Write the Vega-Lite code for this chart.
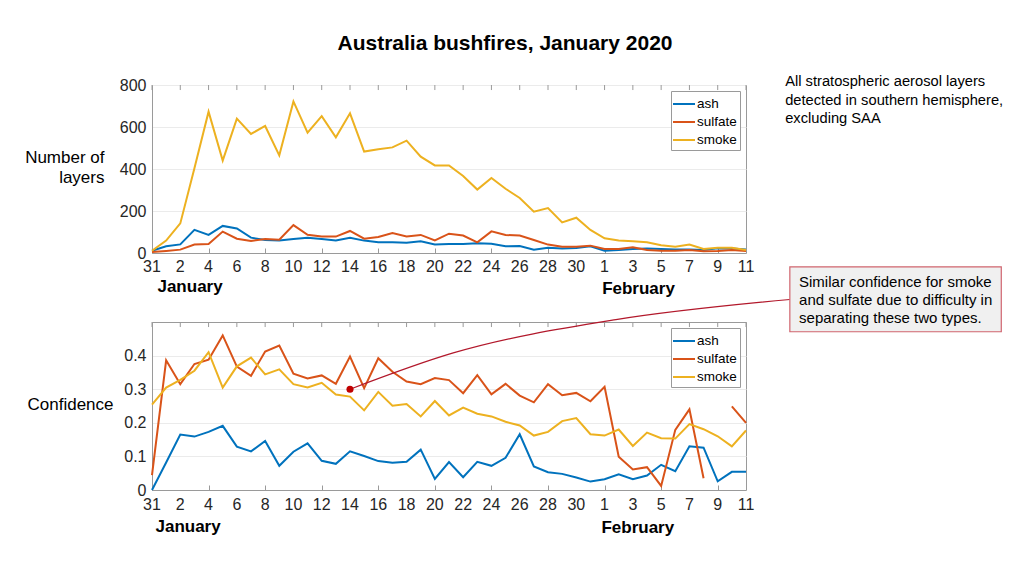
{
  "$schema": "https://vega.github.io/schema/vega-lite/v6.json",
  "autosize": {"type": "none"},
  "padding": {"left": 152, "top": 85, "right": 872, "bottom": 491},
  "background": "white",
  "config": {
    "font": "Liberation Sans",
    "view": {"stroke": "#9a9a9a", "strokeWidth": 1},
    "axis": {
      "labelFont": "Liberation Sans", "labelFontSize": 16, "labelColor": "#262626",
      "domainColor": "#9a9a9a", "tickColor": "#9a9a9a", "gridColor": "#ebebeb",
      "titleFont": "Liberation Sans", "titleFontSize": 17, "titleFontWeight": "normal", "titleColor": "#000000",
      "titleLineHeight": 20
    },
    "axisX": {"labels": false, "tickSize": -5, "grid": false, "title": null},
    "legend": {
      "orient": "top-right", "offset": 6, "strokeColor": "#9a9a9a", "fillColor": "white",
      "padding": 3, "symbolType": "M-1.22,0H1.22", "symbolSize": 324, "symbolStrokeWidth": 2,
      "labelFont": "Liberation Sans", "labelFontSize": 13.5, "labelColor": "#000000",
      "rowPadding": 1, "labelOffset": 3, "title": null, "cornerRadius": 0
    }
  },
  "datasets": {
    "one": [{}],
    "series": [
      {"d":0,"type":"ash","count":11,"conf":0},
      {"d":1,"type":"ash","count":32,"conf":0.082},
      {"d":2,"type":"ash","count":41,"conf":0.165},
      {"d":3,"type":"ash","count":110,"conf":0.159},
      {"d":4,"type":"ash","count":86,"conf":0.173},
      {"d":5,"type":"ash","count":129,"conf":0.191},
      {"d":6,"type":"ash","count":117,"conf":0.129},
      {"d":7,"type":"ash","count":73,"conf":0.115},
      {"d":8,"type":"ash","count":62,"conf":0.146},
      {"d":9,"type":"ash","count":59,"conf":0.072},
      {"d":10,"type":"ash","count":67,"conf":0.114},
      {"d":11,"type":"ash","count":73,"conf":0.139},
      {"d":12,"type":"ash","count":67,"conf":0.087},
      {"d":13,"type":"ash","count":60,"conf":0.078},
      {"d":14,"type":"ash","count":73,"conf":0.115},
      {"d":15,"type":"ash","count":59,"conf":0.101},
      {"d":16,"type":"ash","count":51,"conf":0.086},
      {"d":17,"type":"ash","count":51,"conf":0.081},
      {"d":18,"type":"ash","count":49,"conf":0.084},
      {"d":19,"type":"ash","count":56,"conf":0.12},
      {"d":20,"type":"ash","count":41,"conf":0.033},
      {"d":21,"type":"ash","count":43,"conf":0.083},
      {"d":22,"type":"ash","count":43,"conf":0.038},
      {"d":23,"type":"ash","count":46,"conf":0.084},
      {"d":24,"type":"ash","count":44,"conf":0.072},
      {"d":25,"type":"ash","count":32,"conf":0.096},
      {"d":26,"type":"ash","count":33,"conf":0.166},
      {"d":27,"type":"ash","count":16,"conf":0.07},
      {"d":28,"type":"ash","count":25,"conf":0.053},
      {"d":29,"type":"ash","count":21,"conf":0.048},
      {"d":30,"type":"ash","count":24,"conf":0.037},
      {"d":31,"type":"ash","count":32,"conf":0.025},
      {"d":32,"type":"ash","count":11,"conf":0.032},
      {"d":33,"type":"ash","count":14,"conf":0.047},
      {"d":34,"type":"ash","count":19,"conf":0.032},
      {"d":35,"type":"ash","count":22,"conf":0.043},
      {"d":36,"type":"ash","count":19,"conf":0.075},
      {"d":37,"type":"ash","count":17,"conf":0.056},
      {"d":38,"type":"ash","count":17,"conf":0.13},
      {"d":39,"type":"ash","count":14,"conf":0.126},
      {"d":40,"type":"ash","count":22,"conf":0.026},
      {"d":41,"type":"ash","count":22,"conf":0.054},
      {"d":42,"type":"ash","count":17,"conf":0.054},
      {"d":0,"type":"sulfate","count":5,"conf":0.044},
      {"d":1,"type":"sulfate","count":10,"conf":0.386},
      {"d":2,"type":"sulfate","count":16,"conf":0.315},
      {"d":3,"type":"sulfate","count":40,"conf":0.375},
      {"d":4,"type":"sulfate","count":43,"conf":0.388},
      {"d":5,"type":"sulfate","count":102,"conf":0.46},
      {"d":6,"type":"sulfate","count":68,"conf":0.367},
      {"d":7,"type":"sulfate","count":57,"conf":0.34},
      {"d":8,"type":"sulfate","count":67,"conf":0.412},
      {"d":9,"type":"sulfate","count":63,"conf":0.43},
      {"d":10,"type":"sulfate","count":133,"conf":0.346},
      {"d":11,"type":"sulfate","count":87,"conf":0.332},
      {"d":12,"type":"sulfate","count":79,"conf":0.341},
      {"d":13,"type":"sulfate","count":78,"conf":0.316},
      {"d":14,"type":"sulfate","count":105,"conf":0.397},
      {"d":15,"type":"sulfate","count":68,"conf":0.303},
      {"d":16,"type":"sulfate","count":76,"conf":0.392},
      {"d":17,"type":"sulfate","count":95,"conf":0.352},
      {"d":18,"type":"sulfate","count":79,"conf":0.323},
      {"d":19,"type":"sulfate","count":86,"conf":0.315},
      {"d":20,"type":"sulfate","count":60,"conf":0.333},
      {"d":21,"type":"sulfate","count":92,"conf":0.327},
      {"d":22,"type":"sulfate","count":83,"conf":0.288},
      {"d":23,"type":"sulfate","count":51,"conf":0.342},
      {"d":24,"type":"sulfate","count":103,"conf":0.285},
      {"d":25,"type":"sulfate","count":86,"conf":0.316},
      {"d":26,"type":"sulfate","count":83,"conf":0.281},
      {"d":27,"type":"sulfate","count":62,"conf":0.261},
      {"d":28,"type":"sulfate","count":40,"conf":0.315},
      {"d":29,"type":"sulfate","count":30,"conf":0.282},
      {"d":30,"type":"sulfate","count":30,"conf":0.289},
      {"d":31,"type":"sulfate","count":35,"conf":0.264},
      {"d":32,"type":"sulfate","count":19,"conf":0.307},
      {"d":33,"type":"sulfate","count":19,"conf":0.099},
      {"d":34,"type":"sulfate","count":27,"conf":0.061},
      {"d":35,"type":"sulfate","count":14,"conf":0.068},
      {"d":36,"type":"sulfate","count":11,"conf":0.012},
      {"d":37,"type":"sulfate","count":11,"conf":0.179},
      {"d":38,"type":"sulfate","count":14,"conf":0.24},
      {"d":39,"type":"sulfate","count":8,"conf":0.035},
      {"d":40,"type":"sulfate","count":10,"conf":null},
      {"d":41,"type":"sulfate","count":14,"conf":0.249},
      {"d":42,"type":"sulfate","count":10,"conf":0.2},
      {"d":0,"type":"smoke","count":11,"conf":0.254},
      {"d":1,"type":"smoke","count":59,"conf":0.305},
      {"d":2,"type":"smoke","count":141,"conf":0.328},
      {"d":3,"type":"smoke","count":403,"conf":0.355},
      {"d":4,"type":"smoke","count":673,"conf":0.41},
      {"d":5,"type":"smoke","count":440,"conf":0.305},
      {"d":6,"type":"smoke","count":640,"conf":0.368},
      {"d":7,"type":"smoke","count":567,"conf":0.394},
      {"d":8,"type":"smoke","count":605,"conf":0.344},
      {"d":9,"type":"smoke","count":465,"conf":0.359},
      {"d":10,"type":"smoke","count":722,"conf":0.315},
      {"d":11,"type":"smoke","count":573,"conf":0.305},
      {"d":12,"type":"smoke","count":652,"conf":0.319},
      {"d":13,"type":"smoke","count":551,"conf":0.284},
      {"d":14,"type":"smoke","count":665,"conf":0.278},
      {"d":15,"type":"smoke","count":483,"conf":0.237},
      {"d":16,"type":"smoke","count":494,"conf":0.292},
      {"d":17,"type":"smoke","count":503,"conf":0.251},
      {"d":18,"type":"smoke","count":535,"conf":0.256},
      {"d":19,"type":"smoke","count":459,"conf":0.219},
      {"d":20,"type":"smoke","count":417,"conf":0.265},
      {"d":21,"type":"smoke","count":417,"conf":0.222},
      {"d":22,"type":"smoke","count":367,"conf":0.245},
      {"d":23,"type":"smoke","count":302,"conf":0.227},
      {"d":24,"type":"smoke","count":357,"conf":0.219},
      {"d":25,"type":"smoke","count":306,"conf":0.203},
      {"d":26,"type":"smoke","count":262,"conf":0.192},
      {"d":27,"type":"smoke","count":197,"conf":0.162},
      {"d":28,"type":"smoke","count":214,"conf":0.173},
      {"d":29,"type":"smoke","count":146,"conf":0.205},
      {"d":30,"type":"smoke","count":168,"conf":0.214},
      {"d":31,"type":"smoke","count":110,"conf":0.166},
      {"d":32,"type":"smoke","count":70,"conf":0.162},
      {"d":33,"type":"smoke","count":60,"conf":0.18},
      {"d":34,"type":"smoke","count":56,"conf":0.131},
      {"d":35,"type":"smoke","count":51,"conf":0.171},
      {"d":36,"type":"smoke","count":37,"conf":0.154},
      {"d":37,"type":"smoke","count":30,"conf":0.153},
      {"d":38,"type":"smoke","count":40,"conf":0.196},
      {"d":39,"type":"smoke","count":19,"conf":0.181},
      {"d":40,"type":"smoke","count":25,"conf":0.16},
      {"d":41,"type":"smoke","count":25,"conf":0.13},
      {"d":42,"type":"smoke","count":14,"conf":0.177}
    ],
    "callout": [
      {"cx": 14, "cy": 0.3},
      {"cx": 21.3, "cy": 0.408},
      {"cx": 32.8, "cy": 0.507},
      {"cx": 45.1, "cy": 0.567}
    ]
  },
  "vconcat": [
    {
      "width": 594,
      "height": 168,
      "layer": [
        {
          "data": {"name": "series"},
          "mark": {"type": "line", "strokeWidth": 2},
          "encoding": {
            "x": {"field": "d", "type": "quantitative",
              "scale": {"domain": [0, 42], "nice": false, "zero": false},
              "axis": {"values": [0,2,4,6,8,10,12,14,16,18,20,22,24,26,28,30,32,34,36,38,40,42]}},
            "y": {"field": "count", "type": "quantitative",
              "scale": {"domain": [0, 800], "nice": false},
              "axis": {"values": [0,200,400,600,800], "title": ["Number of", "layers"],
                "titleAngle": 0, "titleAlign": "right", "titleBaseline": "middle",
                "titleX": -48, "titleY": 72, "tickSize": 0, "labelPadding": 6}},
            "color": {"field": "type", "type": "nominal",
              "scale": {"domain": ["ash", "sulfate", "smoke"], "range": ["#0072BD", "#D95319", "#EDB120"]}}
          }
        },
        {
          "data": {"name": "series"},
          "transform": [{"filter": "datum.type == 'ash' && datum.d % 2 == 0"}],
          "mark": {"type": "rule", "color": "#9a9a9a", "strokeWidth": 1},
          "encoding": {
            "x": {"field": "d", "type": "quantitative"},
            "y": {"datum": 800}, "y2": {"datum": 776}}
        },
        {
          "data": {"name": "series"},
          "transform": [
            {"filter": "datum.type == 'ash' && datum.d % 2 == 0"},
            {"calculate": "datum.d == 0 ? '31' : (datum.d <= 31 ? '' + datum.d : '' + (datum.d - 31))", "as": "lab"}
          ],
          "mark": {"type": "text", "fontSize": 16, "color": "#262626", "align": "center", "baseline": "middle"},
          "encoding": {
            "x": {"field": "d", "type": "quantitative"},
            "y": {"datum": -67},
            "text": {"field": "lab"}}
        },
        {
          "data": {"name": "one"},
          "mark": {"type": "text", "fontWeight": "bold", "fontSize": 21, "align": "center", "baseline": "middle"},
          "encoding": {"x": {"datum": 24.96}, "y": {"datum": 995}, "text": {"value": "Australia bushfires, January 2020"}}
        },
        {
          "data": {"name": "one"},
          "mark": {"type": "text", "fontSize": 14.7, "align": "left", "baseline": "middle", "lineHeight": 18.7},
          "encoding": {"x": {"datum": 44.77}, "y": {"datum": 814},
            "text": {"value": ["All stratospheric aerosol layers", "detected in southern hemisphere,", "excluding SAA"]}}
        },
        {
          "data": {"name": "one"},
          "mark": {"type": "text", "fontWeight": "bold", "fontSize": 17, "align": "center", "baseline": "middle"},
          "encoding": {"x": {"datum": 2.69}, "y": {"datum": -162}, "text": {"value": "January"}}
        },
        {
          "data": {"name": "one"},
          "mark": {"type": "text", "fontWeight": "bold", "fontSize": 17, "align": "center", "baseline": "middle"},
          "encoding": {"x": {"datum": 34.4}, "y": {"datum": -171}, "text": {"value": "February"}}
        }
      ]
    },
    {
      "width": 594,
      "height": 168,
      "layer": [
        {
          "data": {"name": "series"},
          "mark": {"type": "line", "strokeWidth": 2},
          "encoding": {
            "x": {"field": "d", "type": "quantitative",
              "scale": {"domain": [0, 42], "nice": false, "zero": false},
              "axis": {"values": [0,2,4,6,8,10,12,14,16,18,20,22,24,26,28,30,32,34,36,38,40,42]}},
            "y": {"field": "conf", "type": "quantitative",
              "scale": {"domain": [0, 0.5], "nice": false},
              "axis": {"values": [0,0.1,0.2,0.3,0.4], "format": ".1~f", "title": "Confidence",
                "titleAngle": 0, "titleAlign": "right", "titleBaseline": "middle",
                "titleX": -39, "titleY": 82, "tickSize": 0, "labelPadding": 6}},
            "color": {"field": "type", "type": "nominal",
              "scale": {"domain": ["ash", "sulfate", "smoke"], "range": ["#0072BD", "#D95319", "#EDB120"]}}
          }
        },
        {
          "data": {"name": "series"},
          "transform": [{"filter": "datum.type == 'ash' && datum.d % 2 == 0"}],
          "mark": {"type": "rule", "color": "#9a9a9a", "strokeWidth": 1},
          "encoding": {
            "x": {"field": "d", "type": "quantitative"},
            "y": {"datum": 0.5}, "y2": {"datum": 0.485}}
        },
        {
          "data": {"name": "series"},
          "transform": [
            {"filter": "datum.type == 'ash' && datum.d % 2 == 0"},
            {"calculate": "datum.d == 0 ? '31' : (datum.d <= 31 ? '' + datum.d : '' + (datum.d - 31))", "as": "lab"}
          ],
          "mark": {"type": "text", "fontSize": 16, "color": "#262626", "align": "center", "baseline": "middle"},
          "encoding": {
            "x": {"field": "d", "type": "quantitative"},
            "y": {"datum": -0.045},
            "text": {"field": "lab"}}
        },
        {
          "data": {"name": "callout"},
          "mark": {"type": "line", "interpolate": "monotone", "stroke": "#b2182b", "strokeWidth": 1.2},
          "encoding": {
            "x": {"field": "cx", "type": "quantitative"},
            "y": {"field": "cy", "type": "quantitative"}}
        },
        {
          "data": {"name": "one"},
          "mark": {"type": "point", "filled": true, "color": "#c00000", "size": 50, "opacity": 1},
          "encoding": {"x": {"datum": 14}, "y": {"datum": 0.3}}
        },
        {
          "data": {"name": "one"},
          "mark": {"type": "rect", "fill": "#f0f0f0", "stroke": "#d0646e", "strokeWidth": 1.2},
          "encoding": {"x": {"datum": 45.1}, "x2": {"datum": 60.05}, "y": {"datum": 0.664}, "y2": {"datum": 0.471}}
        },
        {
          "data": {"name": "one"},
          "mark": {"type": "text", "fontSize": 15, "align": "left", "baseline": "middle", "lineHeight": 18},
          "encoding": {"x": {"datum": 45.75}, "y": {"datum": 0.619},
            "text": {"value": ["Similar confidence for smoke", "and sulfate due to difficulty in", "separating these two types."]}}
        },
        {
          "data": {"name": "one"},
          "mark": {"type": "text", "fontWeight": "bold", "fontSize": 17, "align": "center", "baseline": "middle"},
          "encoding": {"x": {"datum": 2.55}, "y": {"datum": -0.111}, "text": {"value": "January"}}
        },
        {
          "data": {"name": "one"},
          "mark": {"type": "text", "fontWeight": "bold", "fontSize": 17, "align": "center", "baseline": "middle"},
          "encoding": {"x": {"datum": 34.35}, "y": {"datum": -0.114}, "text": {"value": "February"}}
        }
      ]
    }
  ],
  "spacing": 69,
  "bounds": "flush",
  "resolve": {"legend": {"color": "independent"}}
}
